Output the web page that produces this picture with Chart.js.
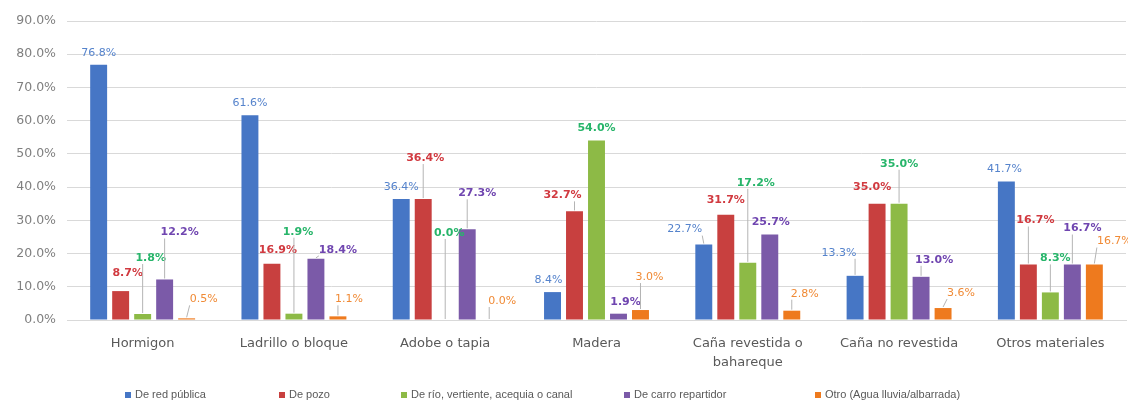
<!DOCTYPE html>
<html>
<head>
<meta charset="utf-8">
<title>Fuente de agua por material de vivienda</title>
<script src="https://cdn.jsdelivr.net/npm/chart.js@4.4.0/dist/chart.umd.min.js"></script>
<style>
  html, body { margin: 0; padding: 0; background: #fff; }
  #wrap { width: 1128px; height: 405px; position: relative; }
</style>
</head>
<body>
<div id="wrap"><canvas id="chart"></canvas></div>
<script>
// Categories (material de la vivienda)
const categories = ['Hormigon', 'Ladrillo o bloque', 'Adobe o tapia', 'Madera',
    ['Caña revestida o', 'bahareque'], 'Caña no revestida', 'Otros materiales'];

// Series (% por fuente de agua)
const redPublica = [76.8, 61.6, 36.4, 8.4, 22.7, 13.3, 41.7];
const pozo       = [8.7, 16.9, 36.4, 32.7, 31.7, 35.0, 16.7];
const rio        = [1.8, 1.9, 0.0, 54.0, 17.2, 35.0, 8.3];
const carro      = [12.2, 18.4, 27.3, 1.9, 25.7, 13.0, 16.7];
const otro       = [0.5, 1.1, 0.0, 3.0, 2.8, 3.6, 16.7];

const seriesNames = ['De red pública', 'De pozo', 'De río, vertiente, acequia o canal',
    'De carro repartidor', 'Otro (Agua lluvia/albarrada)'];

// Y axis ticks
const yTicks = [0, 10, 20, 30, 40, 50, 60, 70, 80, 90];

const barColors = ['#4676C5', '#C8403F', '#8DBA46', '#7B5AA8', '#EE7A1E'];
const labelColors = ['#5583CC', '#D13A40', '#27B56A', '#7046B0', '#F08A35'];
const labelBold = [false, true, true, true, false];

// Label nudges [dx, dy] in px, so the value labels don't collide
const labelShift = [
    [[0, 0], [0, 0], [0, 0], [-4, 0], [-19, -3], [-16, -11], [-2, 0]],
    [[7, -6], [6, -2], [2, -29], [-12, -4], [0, -3], [-5, -5], [7, -32]],
    [[8, -44], [4, -70], [4, -75], [0, 0], [8, -68], [0, -28], [5, -22]],
    [[15, -35], [22, 3], [10, -24], [7, 0], [1, 0], [13, -5], [10, -24]],
    [[17, -7], [11, -5], [13, -7], [9, -21], [13, -5], [18, -3], [20, -11]]
];

// Legend marker positions along the bottom row
const legendX = [125, 279, 401, 624, 815];

const FONT = '"DejaVu Sans", Verdana, sans-serif';
const LEGEND_FONT = '"Liberation Sans", Arial, sans-serif';

// Value labels above the bars, with leader lines when moved away
const barLabels = {
    id: 'barLabels',
    afterDatasetsDraw(chart) {
        const ctx = chart.ctx;
        ctx.save();
        ctx.textAlign = 'center';
        ctx.textBaseline = 'middle';
        chart.data.datasets.forEach((ds, i) => {
            const meta = chart.getDatasetMeta(i);
            ctx.font = (labelBold[i] ? 'bold ' : '') + '11px ' + FONT;
            meta.data.forEach((bar, j) => {
                const [dx, dy] = labelShift[i][j];
                const x = bar.x + dx;
                const y = bar.y - 12 + dy;
                const text = ds.data[j].toFixed(1) + '%';
                const w = ctx.measureText(text).width;
                if (Math.hypot(dx, dy) > 12) {
                    const ex = Math.min(Math.max(bar.x, x - w / 2), x + w / 2);
                    ctx.strokeStyle = '#B4B4B4';
                    ctx.lineWidth = 1;
                    ctx.beginPath();
                    ctx.moveTo(bar.x, bar.y - 1);
                    ctx.lineTo(ex, y + 6);
                    ctx.stroke();
                }
                ctx.fillStyle = labelColors[i];
                ctx.fillText(text, x, y);
            });
        });
        ctx.restore();
    }
};

// Legend row along the bottom
const legendRow = {
    id: 'legendRow',
    afterDraw(chart) {
        const ctx = chart.ctx;
        ctx.save();
        ctx.font = '11px ' + LEGEND_FONT;
        ctx.textBaseline = 'middle';
        ctx.textAlign = 'left';
        const y = chart.height - 10;
        chart.data.datasets.forEach((ds, i) => {
            const x = legendX[i];
            ctx.fillStyle = ds.backgroundColor;
            ctx.fillRect(x, y - 3, 6, 6);
            ctx.fillStyle = '#595959';
            ctx.fillText(ds.label, x + 10, y);
        });
        ctx.restore();
    }
};

const allSeries = [redPublica, pozo, rio, carro, otro];

new Chart(document.getElementById('chart'), {
    type: 'bar',
    data: {
        labels: categories,
        datasets: allSeries.map((values, i) => ({
            label: seriesNames[i],
            data: values,
            backgroundColor: barColors[i],
            categoryPercentage: 0.727,
            barPercentage: 0.77
        }))
    },
    options: {
        responsive: true,
        maintainAspectRatio: false,
        animation: false,
        layout: { padding: { top: 21, right: 2, bottom: 30, left: 0 } },
        plugins: {
            legend: { display: false },
            tooltip: { enabled: false }
        },
        scales: {
            x: {
                grid: { display: false },
                border: { color: '#D9D9D9' },
                ticks: {
                    color: '#595959',
                    font: { family: FONT, size: 13, lineHeight: 1.4 },
                    padding: 7,
                    maxRotation: 0,
                    autoSkip: false
                },
                afterFit(scale) { scale.height = 55; }
            },
            y: {
                min: yTicks[0],
                max: yTicks[yTicks.length - 1],
                afterBuildTicks(scale) { scale.ticks = yTicks.map(v => ({ value: v })); },
                grid: { color: '#D9D9D9', drawTicks: false },
                border: { display: false },
                ticks: {
                    color: '#7F7F7F',
                    font: { family: FONT, size: 12.5 },
                    padding: 11,
                    callback: v => v.toFixed(1) + '%'
                },
                afterFit(scale) { scale.width = 67; }
            }
        }
    },
    plugins: [barLabels, legendRow]
});
</script>
</body>
</html>
